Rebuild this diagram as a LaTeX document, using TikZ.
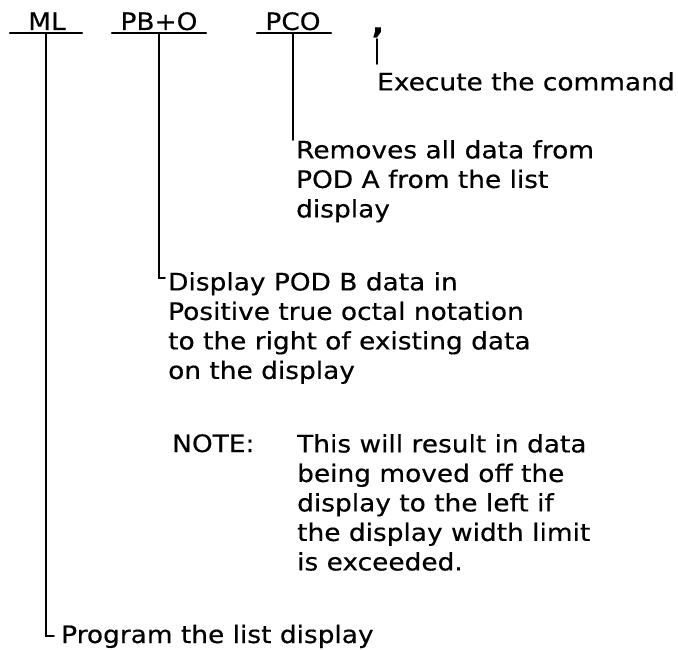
\documentclass[tikz,border=0pt]{standalone}
\usepackage{fontspec}
\setmainfont{DejaVu Sans}[FakeStretch=1.1,FakeBold=0.4]
\tikzset{
  cmd/.style={anchor=base,inner sep=0pt},
  expl/.style={anchor=north west,inner sep=0pt,align=left},
  bar/.style={line width=2.2pt},
  stem/.style={line width=1.8pt}
}
\begin{document}
\begin{tikzpicture}[x=1pt,y=-1pt,line cap=round,font=\fontsize{24}{29.5}\selectfont]
\useasboundingbox (0,0) rectangle (678,650);
% command fields
\node[cmd] (ml) at (47,30) {ML};
\node[cmd] (pbo) at (159,30) {PB+O};
\node[cmd] (pco) at (293,30) {PCO};
\node[cmd,font=\fontsize{30}{30}\selectfont\bfseries] (comma) at (378,33) {,};
\draw[bar] (10,33) -- (82,33);
\draw[bar] (112,33) -- (206,33);
\draw[bar] (257,33) -- (331,33);
\coordinate (mlbar) at (46,33);
\coordinate (pbobar) at (159,33);
\coordinate (pcobar) at (293,33);
% explanations
\node[expl] (exec) at (377,72) {Execute the command};
\node[expl] (rem) at (296,140) {Removes all data from\\POD A from the list\\display};
\node[expl] (disp) at (168,272) {Display POD B data in\\Positive true octal notation\\to the right of existing data\\on the display};
\node[expl] (notelbl) at (172,434) {NOTE:};
\node[expl] (notetxt) at (297,434) {This will result in data\\being moved off the\\display to the left if\\the display width limit\\is exceeded.};
\node[anchor=base west,inner sep=0pt] (prog) at (61,643) {Program the list display};
% leaders
\draw[stem] (377,39) -- (377,64);
\draw[stem] (pcobar) |- ([xshift=-3pt]rem.north west);
\draw[stem] (pbobar) |- ([xshift=-3pt,yshift=-6pt]disp.north west);
\draw[stem] (mlbar) |- ([xshift=-7pt]prog.west);
\end{tikzpicture}
\end{document}
